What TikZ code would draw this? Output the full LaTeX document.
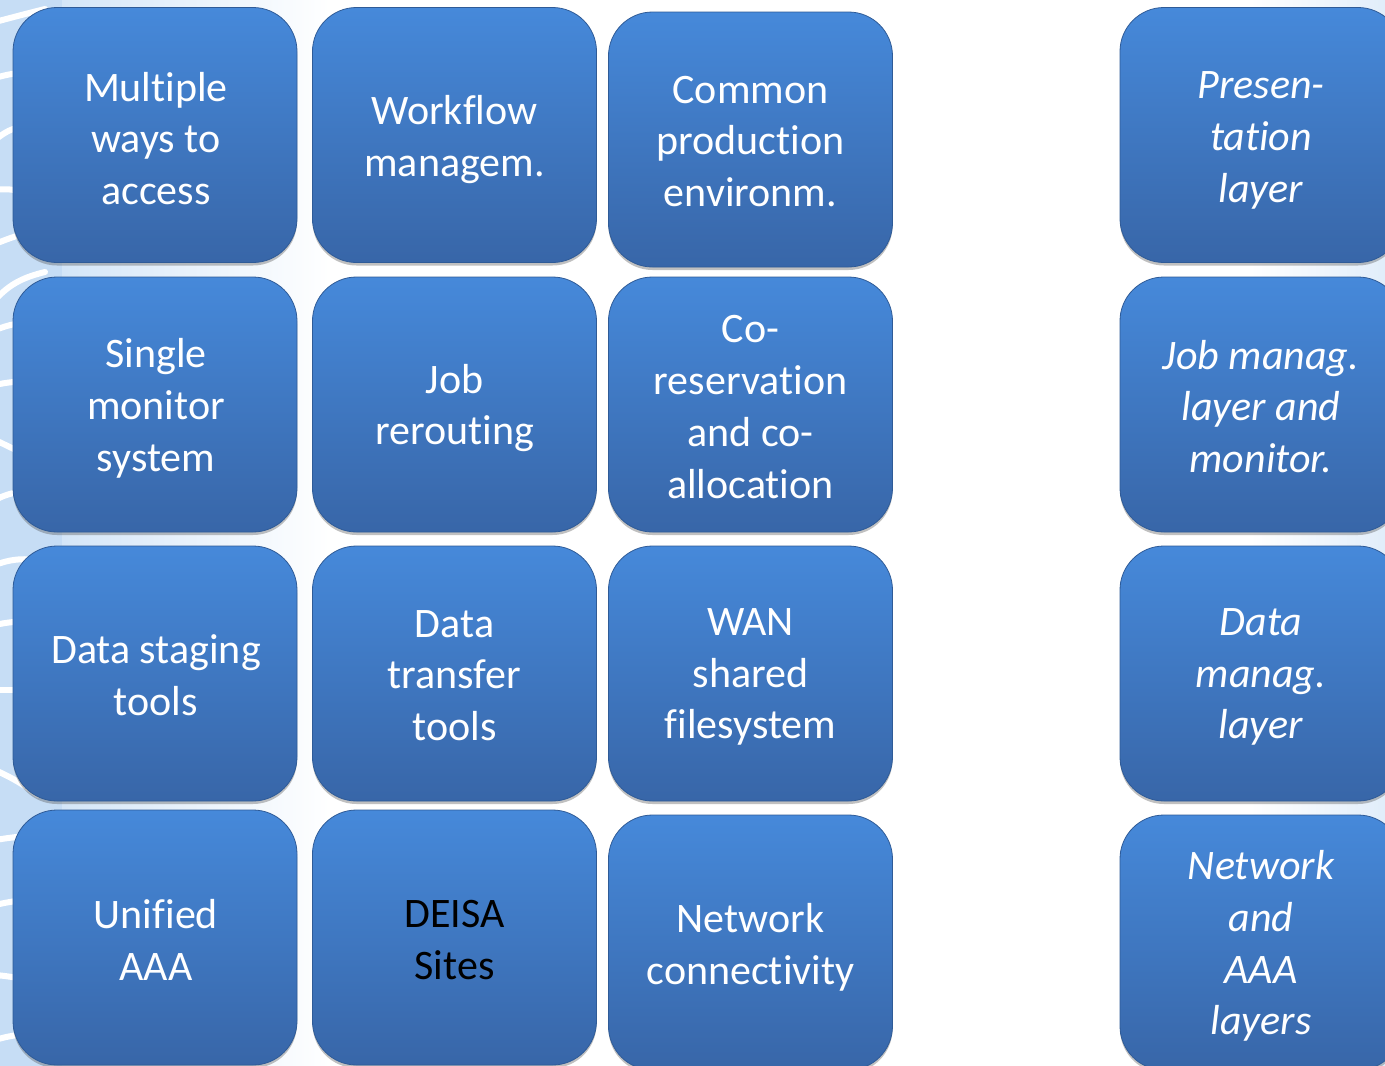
\documentclass[tikz,border=0pt]{standalone}
\usepackage{fontspec}
\setmainfont{Carlito}[Ligatures=NoCommon]
\usetikzlibrary{shadows}
\definecolor{boxtop}{HTML}{4689DA}
\definecolor{boxbot}{HTML}{3866A8}
\definecolor{boxedge}{HTML}{2F5B97}
\definecolor{bgblue}{HTML}{C6DDF5}
\definecolor{bgfade}{HTML}{D4E6F8}
\tikzset{
  tile/.style={rectangle, rounded corners=44pt, minimum width=284pt, minimum height=255pt,
    top color=boxtop, bottom color=boxbot, draw=boxedge, line width=0.8pt,
    drop shadow={shadow xshift=0pt, shadow yshift=-3pt, opacity=0.35, fill=black!70},
    inner sep=0pt},
  layertile/.style={tile, minimum width=282pt},
  txt/.style={text=white, align=center, inner sep=0pt,
    font=\fontsize{42pt}{51.8pt}\selectfont},
  layertxt/.style={txt, font=\fontsize{42pt}{51.8pt}\selectfont\itshape},
  darktext/.style={text=black},
  deco/.style={white, line width=6pt, line cap=round}
}
\begin{document}
\begin{tikzpicture}[x=1pt,y=-1pt]
\useasboundingbox (0,0) rectangle (1385,1066);
\fill[white] (0,0) rectangle (1385,1066);
% slide background
\fill[bgblue] (0,0) rectangle (62,1066);
\shade[left color=bgfade, right color=white] (62,0) rectangle (330,1066);
\shade[left color=white, right color=bgfade!70] (1250,0) rectangle (1385,1066);
\begin{scope}[deco]
  \draw (-5,22) .. controls (10,18) and (25,14) .. (45,9);
  \draw (-5,78) .. controls (8,74) and (20,72) .. (40,72);
  \draw (-5,140) .. controls (5,132) and (12,128) .. (25,126);
  \draw (-5,190) .. controls (8,188) and (20,190) .. (35,196);
  \draw (-5,244) .. controls (10,238) and (25,232) .. (45,230);
  \draw (-5,300) .. controls (8,286) and (20,278) .. (45,272);
  \draw (-5,330) .. controls (8,325) and (20,322) .. (35,322);
  \draw (-5,385) .. controls (8,382) and (20,381) .. (30,382);
  \draw (-5,440) .. controls (8,446) and (20,452) .. (35,460);
  \draw (-5,500) .. controls (10,492) and (25,490) .. (45,490);
  \draw (-5,565) .. controls (8,560) and (20,558) .. (35,560);
  \draw (-5,625) .. controls (8,622) and (20,621) .. (30,622);
  \draw (-5,690) .. controls (8,690) and (18,690) .. (28,690);
  \draw (-5,770) .. controls (8,776) and (20,782) .. (38,795);
  \draw (-5,840) .. controls (8,838) and (20,836) .. (35,836);
  \draw (-5,905) .. controls (8,902) and (20,900) .. (30,900);
  \draw (-5,975) .. controls (8,976) and (18,978) .. (28,980);
  \draw (-5,1040) .. controls (8,1036) and (20,1034) .. (35,1034);
\end{scope}
% tiles
\node[tile] (access) at (155,135) {};
\node[tile] (workflow) at (454.5,135) {};
\node[tile] (common) at (750.5,139.5) {};
\node[layertile] (presentation) at (1261,135) {};
\node[tile] (monitor) at (155,404.5) {};
\node[tile] (rerouting) at (454.5,404.5) {};
\node[tile] (coreserv) at (750.5,404.5) {};
\node[layertile] (jobmanag) at (1261,404.5) {};
\node[tile] (staging) at (155,673.5) {};
\node[tile] (transfer) at (454.5,673.5) {};
\node[tile] (wan) at (750.5,673.5) {};
\node[layertile] (datamanag) at (1261,673.5) {};
\node[tile] (aaa) at (155,937.5) {};
\node[tile] (deisa) at (454.5,937.5) {};
\node[tile] (network) at (750.5,942.5) {};
\node[layertile] (netlayers) at (1261,942.5) {};
% texts
\node[txt] (access-t) at ([xshift=1pt,yshift=-3.5pt]access.center) {Multiple\\ways to\\access};
\node[txt] (workflow-t) at ([yshift=-4.5pt]workflow.center) {Workflow\\managem.};
\node[txt] (common-t) at ([yshift=-2pt]common.center) {Common\\production\\environm.};
\node[layertxt] (presentation-t) at ([yshift=-5.5pt]presentation.center) {Presen-\\tation\\layer};
\node[txt] (monitor-t) at ([xshift=1pt,yshift=-3.5pt]monitor.center) {Single\\monitor\\system};
\node[txt] (rerouting-t) at ([yshift=-3.5pt]rerouting.center) {Job\\rerouting};
\node[txt] (coreserv-t) at ([yshift=-2.5pt]coreserv.center) {Co-\\reservation\\and co-\\allocation};
\node[layertxt] (jobmanag-t) at ([yshift=-2pt]jobmanag.center) {Job manag.\\layer and\\monitor.};
\node[txt] (staging-t) at ([xshift=1pt,yshift=-1.5pt]staging.center) {Data staging\\tools};
\node[txt] (transfer-t) at ([yshift=-2pt]transfer.center) {Data\\transfer\\tools};
\node[txt] (wan-t) at ([yshift=-3.5pt]wan.center) {WAN\\shared\\filesystem};
\node[layertxt] (datamanag-t) at ([yshift=-3.5pt]datamanag.center) {Data\\manag.\\layer};
\node[txt] (aaa-t) at ([xshift=1pt,yshift=-2.5pt]aaa.center) {Unified\\AAA};
\node[txt, darktext] (deisa-t) at ([yshift=-2.5pt]deisa.center) {DEISA\\Sites};
\node[txt] (network-t) at ([yshift=-4.5pt]network.center) {Network\\connectivity};
\node[layertxt] (netlayers-t) at ([yshift=-3.5pt]netlayers.center) {Network\\and\\AAA\\layers};
\end{tikzpicture}
\end{document}
